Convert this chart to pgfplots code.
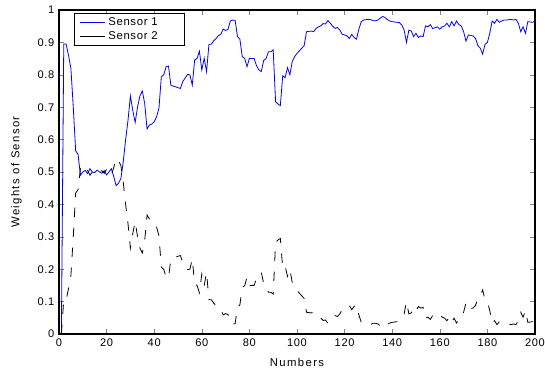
\documentclass[border=0pt]{standalone}
\usepackage{pgfplots}
\pgfplotsset{compat=1.18}
\usepackage{fontspec}
\setmainfont{Liberation Sans}
\begin{document}
\begin{tikzpicture}
\begin{axis}[
  scale only axis,
  width=357pt, height=243pt,
  xmin=0, xmax=200, ymin=0, ymax=1,
  xtick={0,20,...,200},
  ytick={0,0.1,...,1},
  yticklabels={0,0.1,0.2,0.3,0.4,0.5,0.6,0.7,0.8,0.9,1},
  tick align=inside,
  xtick pos=both, ytick pos=both,
  major tick length=3.5pt,
  /pgf/number format/assume math mode=true,
  tick label style={font=\fontsize{8.3}{9}\selectfont\addfontfeatures{LetterSpace=6}},
  label style={font=\fontsize{8.5}{10}\selectfont\addfontfeatures{LetterSpace=12}},
  xlabel={Numbers},
  ylabel={Weights of Sensor},
  xlabel style={yshift=-2pt},
  ylabel style={yshift=5pt},
  axis line style={line width=0.8pt},
  legend style={at={(0.031,0.99)}, anchor=north west, draw=black, line width=0.6pt,
    font=\fontsize{8.5}{10}\selectfont\addfontfeatures{LetterSpace=6}, inner xsep=4pt, inner ysep=1pt, row sep=-1pt},
  legend cell align=left,
  legend image code/.code={\draw[#1, solid] (0pt,0pt) -- (19pt,0pt);},
]
\coordinate (ll) at (rel axis cs:0,0);
\coordinate (ur) at (rel axis cs:1,1);
\addplot[blue, line width=0.6pt] coordinates {
(1,0.00)(2,0.895)(3,0.895)(4,0.86)(5,0.82)(6,0.70)(7,0.565)(8,0.555)(9,0.49)(10,0.50)
(11,0.505)(12,0.495)(13,0.51)(14,0.50)(15,0.498)(16,0.506)(17,0.50)(18,0.496)(19,0.504)(20,0.491)
(21,0.50)(22,0.51)(23,0.486)(24,0.458)(25,0.465)(26,0.48)(27,0.532)(28,0.60)(29,0.66)(30,0.735)
(31,0.69)(32,0.653)(33,0.70)(34,0.735)(35,0.75)(36,0.712)(37,0.633)(38,0.645)(39,0.648)(40,0.655)
(41,0.67)(42,0.697)(43,0.794)(44,0.80)(45,0.825)(46,0.827)(47,0.768)(48,0.765)(49,0.763)(50,0.76)
(51,0.758)(52,0.779)(53,0.79)(54,0.801)(55,0.80)(56,0.768)(57,0.846)(58,0.85)(59,0.873)(60,0.815)
(61,0.851)(62,0.81)(63,0.894)(64,0.894)(65,0.905)(66,0.912)(67,0.921)(68,0.925)(69,0.941)(70,0.937)
(71,0.94)(72,0.966)(73,0.969)(74,0.968)(75,0.918)(76,0.91)(77,0.856)(78,0.851)(79,0.825)(80,0.851)
(81,0.85)(82,0.85)(83,0.828)(84,0.815)(85,0.81)(86,0.844)(87,0.85)(88,0.871)(89,0.871)(90,0.877)
(91,0.717)(92,0.71)(93,0.705)(94,0.797)(95,0.791)(96,0.822)(97,0.80)(98,0.841)(99,0.856)(100,0.866)
(101,0.874)(102,0.882)(103,0.89)(104,0.933)(105,0.934)(106,0.935)(107,0.933)(108,0.943)(109,0.948)(110,0.951)
(111,0.958)(112,0.957)(113,0.967)(114,0.959)(115,0.95)(116,0.943)(117,0.946)(118,0.938)(119,0.925)(120,0.923)
(121,0.92)(122,0.912)(123,0.925)(124,0.915)(125,0.91)(126,0.941)(127,0.964)(128,0.969)(129,0.97)(130,0.971)
(131,0.97)(132,0.967)(133,0.967)(134,0.969)(135,0.975)(136,0.98)(137,0.977)(138,0.97)(139,0.966)(140,0.964)
(141,0.963)(142,0.962)(143,0.961)(144,0.954)(145,0.938)(146,0.90)(147,0.938)(148,0.935)(149,0.918)(150,0.928)
(151,0.915)(152,0.92)(153,0.918)(154,0.951)(155,0.948)(156,0.955)(157,0.943)(158,0.945)(159,0.948)(160,0.941)
(161,0.948)(162,0.951)(163,0.959)(164,0.948)(165,0.964)(166,0.951)(167,0.966)(168,0.955)(169,0.951)(170,0.933)
(171,0.904)(172,0.923)(173,0.921)(174,0.92)(175,0.912)(176,0.89)(177,0.882)(178,0.864)(179,0.894)(180,0.90)
(181,0.928)(182,0.966)(183,0.959)(184,0.971)(185,0.962)(186,0.966)(187,0.969)(188,0.969)(189,0.970)(190,0.971)
(191,0.969)(192,0.971)(193,0.959)(194,0.933)(195,0.948)(196,0.928)(197,0.964)(198,0.963)(199,0.962)(200,0.966)
};
\addlegendentry{Sensor 1\hspace*{14pt}}
\addplot[black, line width=0.6pt, dash pattern=on 7pt off 8pt] coordinates {
(1,0.00)(2,0.105)(3,0.105)(4,0.14)(5,0.18)(6,0.30)(7,0.435)(8,0.445)(9,0.51)(10,0.50)
(11,0.495)(12,0.505)(13,0.49)(14,0.50)(15,0.502)(16,0.494)(17,0.50)(18,0.504)(19,0.496)(20,0.509)
(21,0.50)(22,0.49)(23,0.514)(24,0.542)(25,0.535)(26,0.52)(27,0.468)(28,0.40)(29,0.34)(30,0.265)
(31,0.31)(32,0.347)(33,0.30)(34,0.265)(35,0.25)(36,0.288)(37,0.367)(38,0.355)(39,0.352)(40,0.345)
(41,0.33)(42,0.303)(43,0.206)(44,0.20)(45,0.175)(46,0.173)(47,0.232)(48,0.235)(49,0.237)(50,0.24)
(51,0.242)(52,0.221)(53,0.21)(54,0.199)(55,0.20)(56,0.232)(57,0.154)(58,0.15)(59,0.127)(60,0.185)
(61,0.149)(62,0.19)(63,0.106)(64,0.106)(65,0.095)(66,0.088)(67,0.079)(68,0.075)(69,0.059)(70,0.063)
(71,0.06)(72,0.034)(73,0.031)(74,0.032)(75,0.082)(76,0.09)(77,0.144)(78,0.149)(79,0.175)(80,0.149)
(81,0.15)(82,0.15)(83,0.172)(84,0.185)(85,0.19)(86,0.156)(87,0.15)(88,0.129)(89,0.129)(90,0.123)
(91,0.283)(92,0.29)(93,0.295)(94,0.203)(95,0.209)(96,0.178)(97,0.20)(98,0.159)(99,0.144)(100,0.134)
(101,0.126)(102,0.118)(103,0.11)(104,0.067)(105,0.066)(106,0.065)(107,0.067)(108,0.057)(109,0.052)(110,0.049)
(111,0.042)(112,0.043)(113,0.033)(114,0.041)(115,0.05)(116,0.057)(117,0.054)(118,0.062)(119,0.075)(120,0.077)
(121,0.08)(122,0.088)(123,0.075)(124,0.085)(125,0.09)(126,0.059)(127,0.036)(128,0.031)(129,0.03)(130,0.029)
(131,0.03)(132,0.033)(133,0.033)(134,0.031)(135,0.025)(136,0.02)(137,0.023)(138,0.03)(139,0.034)(140,0.036)
(141,0.037)(142,0.038)(143,0.039)(144,0.046)(145,0.062)(146,0.10)(147,0.062)(148,0.065)(149,0.082)(150,0.072)
(151,0.085)(152,0.08)(153,0.082)(154,0.049)(155,0.052)(156,0.045)(157,0.057)(158,0.055)(159,0.052)(160,0.059)
(161,0.052)(162,0.049)(163,0.041)(164,0.052)(165,0.036)(166,0.049)(167,0.034)(168,0.045)(169,0.049)(170,0.067)
(171,0.096)(172,0.077)(173,0.079)(174,0.08)(175,0.088)(176,0.11)(177,0.118)(178,0.136)(179,0.106)(180,0.10)
(181,0.072)(182,0.034)(183,0.041)(184,0.029)(185,0.038)(186,0.034)(187,0.031)(188,0.031)(189,0.03)(190,0.029)
(191,0.031)(192,0.029)(193,0.041)(194,0.067)(195,0.052)(196,0.072)(197,0.036)(198,0.037)(199,0.038)(200,0.034)
};
\addlegendentry{Sensor 2\hspace*{14pt}}
\end{axis}
\pgfresetboundingbox
\path[use as bounding box] ([shift={(-44.25pt,-27pt)}]ll) rectangle ([shift={(7.5pt,7.5pt)}]ur);
\end{tikzpicture}
\end{document}
